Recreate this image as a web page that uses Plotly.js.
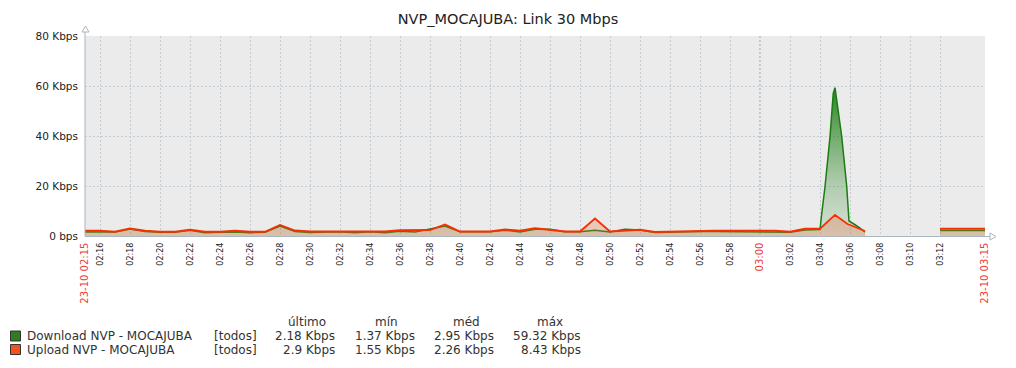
<!DOCTYPE html>
<html>
<head>
<meta charset="utf-8">
<script src="https://cdn.plot.ly/plotly-3.0.1.min.js"></script>
<style>html,body{margin:0;padding:0;background:#fff;}#chart{width:1016px;height:368px;}</style>
</head>
<body>
<div id="chart"></div>
<script>
// ---------- data ----------
const day = '2023-10-23 ';
const chartTitle = 'NVP_MOCAJUBA: Link 30 Mbps';

const downloadTimes = ['02:15','02:16','02:17','02:18','02:19','02:20','02:21','02:22','02:23','02:24',
  '02:25','02:26','02:27','02:28','02:29','02:30','02:31','02:32','02:33','02:34',
  '02:35','02:36','02:37','02:38','02:39','02:40','02:41','02:42','02:43','02:44',
  '02:45','02:46','02:47','02:48','02:49','02:50','02:51','02:52','02:53','02:54',
  '02:55','02:56','02:57','02:58','02:59','03:00','03:01','03:02','03:03','03:04',
  '03:04:07','03:04:20','03:04:40','03:04:47','03:04:53','03:05:00','03:05:13','03:05:27',
  '03:05:47','03:05:53','03:05:56','03:06:20','03:06:40','03:07:00',
  '03:09:30',
  '03:12','03:13','03:14','03:15'];
const downloadKbps = [1.6,1.6,1.6,2.8,1.8,1.5,1.5,2.3,1.3,1.5,
  1.6,1.3,1.5,4.0,1.8,1.4,1.7,1.7,1.3,1.7,
  1.3,1.9,1.6,2.8,4.0,1.7,1.7,1.7,2.3,1.6,
  2.7,2.7,1.7,1.7,2.3,1.6,2.7,2.4,1.4,1.6,
  1.6,1.8,1.8,1.8,1.8,1.5,1.8,1.5,2.4,2.6,
  9.0,19.7,39.7,49.0,57.0,59.32,49.0,39.7,
  19.7,8.0,6.0,4.5,3.2,1.5,
  null,
  2.18,2.18,2.18,2.18];

const uploadTimes = ['02:15','02:16','02:17','02:18','02:19','02:20','02:21','02:22','02:23','02:24',
  '02:25','02:26','02:27','02:28','02:29','02:30','02:31','02:32','02:33','02:34',
  '02:35','02:36','02:37','02:38','02:39','02:40','02:41','02:42','02:43','02:44',
  '02:45','02:46','02:47','02:48','02:49','02:50','02:51','02:52','02:53','02:54',
  '02:55','02:56','02:57','02:58','02:59','03:00','03:01','03:02','03:03','03:04',
  '03:05','03:05:50','03:06:20','03:06:40','03:07:00',
  '03:09:30',
  '03:12','03:13','03:14','03:15'];
const uploadKbps = [2.1,2.1,1.7,3.0,2.1,1.7,1.7,2.5,1.7,1.7,
  2.1,1.7,1.7,4.4,2.2,1.8,1.8,1.8,1.8,1.8,
  1.8,2.3,2.3,2.4,4.6,1.8,1.8,1.8,2.6,2.1,
  3.1,2.4,1.8,1.8,7.0,1.8,2.3,2.5,1.6,1.8,
  1.8,2.1,2.1,2.1,2.1,1.8,2.1,1.7,2.9,2.9,
  8.43,4.8,3.7,2.8,2.0,
  null,
  2.9,2.9,2.9,2.9];

const xTickTimes = ['02:15','02:16','02:18','02:20','02:22','02:24','02:26','02:28','02:30','02:32',
  '02:34','02:36','02:38','02:40','02:42','02:44','02:46','02:48','02:50','02:52','02:54',
  '02:56','02:58','03:00','03:02','03:04','03:06','03:08','03:10','03:12','03:15'];
const xTickLabels = ['23-10 02:15','02:16','02:18','02:20','02:22','02:24','02:26','02:28','02:30','02:32',
  '02:34','02:36','02:38','02:40','02:42','02:44','02:46','02:48','02:50','02:52','02:54',
  '02:56','02:58','03:00','03:02','03:04','03:06','03:08','03:10','03:12','23-10 03:15'];
const redTicks = ['02:15','03:00','03:15'];

const yTickVals = [0,20,40,60,80];
const yTickLabels = ['0 bps','20 Kbps','40 Kbps','60 Kbps','80 Kbps'];

const legendNames = ['Download NVP - MOCAJUBA','Upload NVP - MOCAJUBA'];
const legendRange = ['[todos]','[todos]'];
const legendHeaders = ['último','mín','méd','máx'];
const lastVals = ['2.18 Kbps','2.9 Kbps'];
const minVals = ['1.37 Kbps','1.55 Kbps'];
const avgVals = ['2.95 Kbps','2.26 Kbps'];
const maxVals = ['59.32 Kbps','8.43 Kbps'];
const seriesColors = ['#1a7c11','#f63100'];
const legendBoxColors = ['#2e7d23','#f5501e'];

// ---------- layout helpers ----------
const L = 85, R = 985, T = 36, B = 236;
const px = x => (x - L) / (R - L);
const py = y => (B - y) / (B - T);
const FONT = 'DejaVu Sans';
const toDate = t => (t.length === 5 ? day + t + ':00' : day + t);

const tickText = xTickTimes.map((t, i) => redTicks.includes(t)
  ? '<span style="color:#ee3b3b;font-size:10px">' + xTickLabels[i] + '</span>'
  : xTickLabels[i]);

// split a series at missing values so each run is filled on its own
function segments(times, vals) {
  const out = []; let cur = {x: [], y: []};
  times.forEach((t, i) => {
    if (vals[i] === null) { if (cur.x.length) out.push(cur); cur = {x: [], y: []}; }
    else { cur.x.push(toDate(t)); cur.y.push(vals[i]); }
  });
  if (cur.x.length) out.push(cur);
  return out;
}

const maxDown = Math.max(...downloadKbps.filter(v => v !== null));
const maxUp = Math.max(...uploadKbps.filter(v => v !== null));

const traces = [];
segments(downloadTimes, downloadKbps).forEach(s => traces.push({
  type: 'scatter', mode: 'lines', name: legendNames[0], x: s.x, y: s.y,
  line: {color: seriesColors[0], width: 1.5},
  fill: 'tozeroy',
  fillgradient: {type: 'vertical', start: 0, stop: maxDown,
    colorscale: [[0, 'rgba(26,124,17,0.10)'], [0.35, 'rgba(26,124,17,0.28)'], [0.7, 'rgba(26,124,17,0.6)'], [1, 'rgba(26,124,17,0.92)']]},
  hoverinfo: 'skip'
}));
segments(uploadTimes, uploadKbps).forEach(s => traces.push({
  type: 'scatter', mode: 'lines', name: legendNames[1], x: s.x, y: s.y,
  line: {color: seriesColors[1], width: 1.8},
  fill: 'tozeroy',
  fillgradient: {type: 'vertical', start: 0, stop: maxUp,
    colorscale: [[0, 'rgba(222,118,69,0.30)'], [1, 'rgba(246,60,20,0.20)']]},
  hoverinfo: 'skip'
}));

const axisCol = '#a9b7c1';
const shapes = [
  {type: 'line', xref: 'x', yref: 'paper', x0: toDate('03:00'), x1: toDate('03:00'), y0: 1, y1: 0,
   line: {color: '#9aa8b2', width: 1, dash: '2px,2px'}, layer: 'below'},
  {type: 'line', xref: 'paper', yref: 'paper', x0: px(85), x1: px(85), y0: py(236), y1: py(31),
   line: {color: axisCol, width: 1}},
  {type: 'path', xref: 'paper', yref: 'paper',
   path: `M ${px(82)} ${py(32)} L ${px(85.5)} ${py(26)} L ${px(89)} ${py(32)} Z`,
   fillcolor: '#ffffff', line: {color: axisCol, width: 1}},
  {type: 'line', xref: 'paper', yref: 'paper', x0: px(85), x1: px(991), y0: py(236.5), y1: py(236.5),
   line: {color: axisCol, width: 1}},
  {type: 'path', xref: 'paper', yref: 'paper',
   path: `M ${px(990)} ${py(233)} L ${px(996)} ${py(236.5)} L ${px(990)} ${py(240)} Z`,
   fillcolor: '#ffffff', line: {color: axisCol, width: 1}}
];
legendBoxColors.forEach((c, i) => {
  const yc = 336 + i * 13.5;
  shapes.push({type: 'rect', xref: 'paper', yref: 'paper',
    x0: px(10.5), x1: px(20.5), y0: py(yc - 5), y1: py(yc + 5),
    fillcolor: c, line: {color: '#333333', width: 1}});
});

const annotations = [];
const legFont = {family: FONT, size: 12, color: '#333333'};
const headerCenters = [307, 386, 466, 550];
legendHeaders.forEach((h, i) => annotations.push({
  xref: 'paper', yref: 'paper', x: px(headerCenters[i]), y: py(322), text: h,
  showarrow: false, xanchor: 'center', yanchor: 'middle', font: legFont
}));
const valueRights = [337, 417, 496, 583];
legendNames.forEach((n, i) => {
  const yc = py(336 + i * 13.5);
  annotations.push({xref: 'paper', yref: 'paper', x: px(25), y: yc, text: n, showarrow: false,
    xanchor: 'left', yanchor: 'middle', font: legFont});
  annotations.push({xref: 'paper', yref: 'paper', x: px(212), y: yc, text: legendRange[i], showarrow: false,
    xanchor: 'left', yanchor: 'middle', font: legFont});
  [lastVals, minVals, avgVals, maxVals].forEach((arr, k) => annotations.push({
    xref: 'paper', yref: 'paper', x: px(valueRights[k]), y: yc, text: arr[i], showarrow: false,
    xanchor: 'right', yanchor: 'middle', font: legFont}));
});

const layout = {
  width: 1016, height: 368,
  margin: {l: L, r: 1016 - R, t: T, b: 368 - B, pad: 0},
  paper_bgcolor: '#ffffff', plot_bgcolor: '#ebebeb',
  showlegend: false,
  font: {family: FONT, color: '#222222'},
  title: {text: chartTitle, x: 0.5, xref: 'container', xanchor: 'center',
    y: 1 - 19 / 368, yref: 'container', yanchor: 'middle',
    font: {family: FONT, size: 14.5, color: '#222222'}},
  xaxis: {
    type: 'date', range: [toDate('02:15'), toDate('03:15')],
    tickmode: 'array', tickvals: xTickTimes.map(toDate), ticktext: tickText,
    tickangle: -90, ticks: '', ticklabelstandoff: 4,
    tickfont: {family: FONT, size: 8, color: '#222222'},
    showgrid: true, gridcolor: '#c3ccd3', griddash: '2px,2px', gridwidth: 1,
    showline: false, zeroline: false, fixedrange: true
  },
  yaxis: {
    range: [0, 80], tickmode: 'array', tickvals: yTickVals, ticktext: yTickLabels,
    ticks: '', ticklabelstandoff: 6,
    tickfont: {family: FONT, size: 10.5, color: '#222222'},
    showgrid: true, gridcolor: '#c3ccd3', griddash: '2px,2px', gridwidth: 1,
    showline: false, zeroline: false, fixedrange: true
  },
  shapes: shapes,
  annotations: annotations
};

Plotly.newPlot('chart', traces, layout, {displayModeBar: false, staticPlot: true});
</script>
</body>
</html>
